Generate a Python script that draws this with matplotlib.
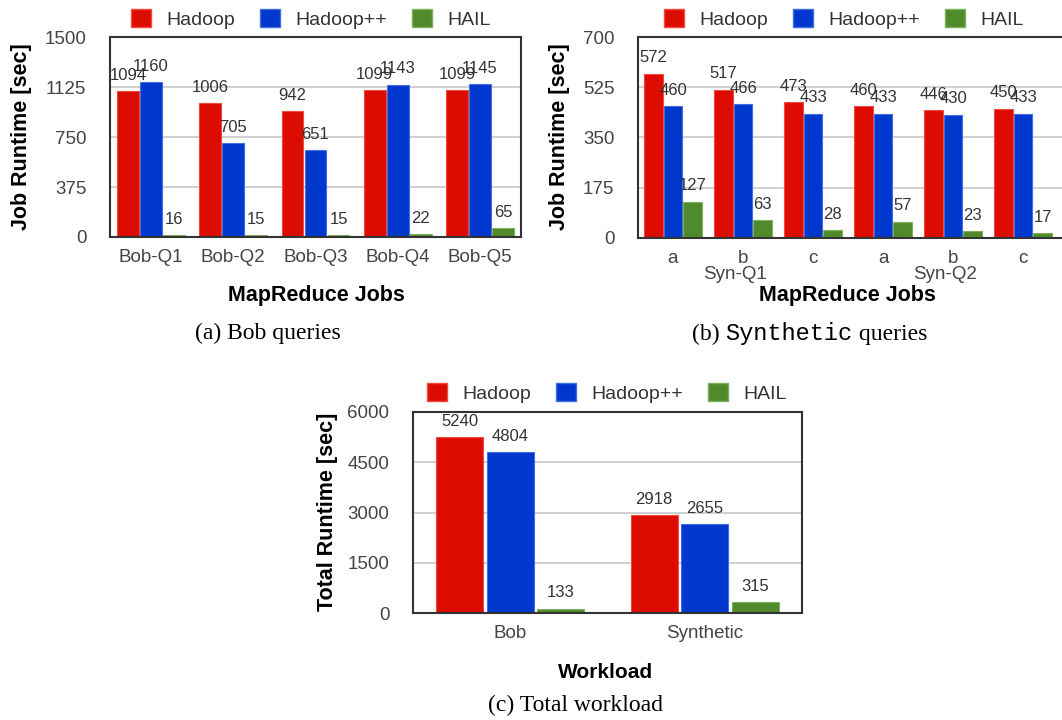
import matplotlib
matplotlib.use("Agg")
import matplotlib.pyplot as plt
from matplotlib.patches import Patch
import numpy as np

W, H = 1062, 720

series = ["Hadoop", "Hadoop++", "HAIL"]
colores = ["#dc0d00", "#0037cc", "#4f8a2b"]
bordes = ["#f04a3c", "#3f6fe0", "#7fae5c"]

bob_jobs = ["Bob-Q1", "Bob-Q2", "Bob-Q3", "Bob-Q4", "Bob-Q5"]
bob_hadoop = [1094, 1006, 942, 1099, 1099]
bob_hadooppp = [1160, 705, 651, 1143, 1145]
bob_hail = [16, 15, 15, 22, 65]

syn_sub = ["a", "b", "c", "a", "b", "c"]
syn_grupos = ["Syn-Q1", "Syn-Q2"]
syn_hadoop = [572, 517, 473, 460, 446, 450]
syn_hadooppp = [460, 466, 433, 433, 430, 433]
syn_hail = [127, 63, 28, 57, 23, 17]

total_cats = ["Bob", "Synthetic"]
total_hadoop = [5240, 2918]
total_hadooppp = [4804, 2655]
total_hail = [133, 315]

plt.rcParams["font.family"] = ["Liberation Sans", "DejaVu Sans"]
ESTRECHA = ["Liberation Sans Narrow", "Liberation Sans", "DejaVu Sans"]

fig = plt.figure(figsize=(W / 100, H / 100), dpi=100)


def caja(x0, y0, x1, y1):
    return [x0 / W, 1 - y1 / H, (x1 - x0) / W, (y1 - y0) / H]


def px(x, y):
    return x / W, 1 - y / H


def barras(ax, valores, ancho, paso, fs_val, fam):
    x = np.arange(len(valores[0]))
    for i, v in enumerate(valores):
        rects = ax.bar(x + (i - 1) * paso, v, width=ancho, color=colores[i],
                       edgecolor=bordes[i], linewidth=0.8, zorder=2)
        ax.bar_label(rects, padding=6, fontsize=fs_val, color="#333333", family=fam)
    return x


def estilo(ax, ymax, paso_y):
    ax.set_ylim(0, ymax)
    ax.set_yticks(np.arange(0, ymax + 1, paso_y))
    ax.set_axisbelow(True)
    ax.grid(axis="y", color="#c8c8c8", lw=1.2, zorder=0)
    ax.tick_params(length=0, labelsize=13.5, labelcolor="#444444")
    ax.tick_params(axis="y", pad=17)
    ax.tick_params(axis="x", pad=9)
    for s in ax.spines.values():
        s.set_color("#333333")
        s.set_linewidth(1.5)


def leyenda(x, y):
    manejadores = [Patch(facecolor=c, edgecolor=b) for c, b in zip(colores, bordes)]
    fig.legend(manejadores, series, loc="center", bbox_to_anchor=px(x, y), ncol=3,
               frameon=False, fontsize=14, labelcolor="#333333",
               handlelength=1.0, handleheight=1.0, handletextpad=0.8, columnspacing=1.3)


# (a) Bob
ax1 = fig.add_axes(caja(110, 37, 521, 237))
x = barras(ax1, [bob_hadoop, bob_hadooppp, bob_hail], 0.265, 0.28, 12, ESTRECHA)
ax1.set_xlim(-0.5, len(bob_jobs) - 0.5)
ax1.set_xticks(x, bob_jobs)
estilo(ax1, 1500, 375)
leyenda(311, 19)
fig.text(*px(22, 137), "Job Runtime [sec]", rotation=90, ha="center", va="center",
         fontsize=15.5, fontweight="bold")
fig.text(*px(316, 296), "MapReduce Jobs", ha="center", va="center",
         fontsize=15.5, fontweight="bold")
fig.text(*px(268, 333), "(a) Bob queries", ha="center", va="center",
         fontsize=17, family="Liberation Serif")

# (b) Synthetic (cortado a la derecha)
ancho_px = 1085 - 638
ax2 = fig.add_axes(caja(638, 37, 1085, 238))
x = barras(ax2, [syn_hadoop, syn_hadooppp, syn_hail], 0.27, 0.28, 12, ESTRECHA)
ax2.set_xlim(-0.5, -0.5 + ancho_px / 70)
ax2.set_xticks(x, syn_sub)
estilo(ax2, 700, 175)
for i, g in enumerate(syn_grupos):
    ax2.text(3 * i + 1 - 0.12, -0.18, g, transform=ax2.get_xaxis_transform(),
             ha="center", va="center", fontsize=13.5, color="#444444")
leyenda(844, 19)
fig.text(*px(560, 137), "Job Runtime [sec]", rotation=90, ha="center", va="center",
         fontsize=15.5, fontweight="bold")
fig.text(*px(847, 296), "MapReduce Jobs", ha="center", va="center",
         fontsize=15.5, fontweight="bold")

# (c) Total
ax3 = fig.add_axes(caja(413, 412, 802, 613))
x = barras(ax3, [total_hadoop, total_hadooppp, total_hail], 0.24, 0.26, 12,
           ["Liberation Sans", "DejaVu Sans"])
ax3.set_xlim(-0.5, len(total_cats) - 0.5)
ax3.set_xticks(x, total_cats)
estilo(ax3, 6000, 1500)
leyenda(607, 393)
fig.text(*px(327, 512), "Total Runtime [sec]", rotation=90, ha="center", va="center",
         fontsize=15.5, fontweight="bold")
fig.text(*px(606, 672), "Workload", ha="center", va="center",
         fontsize=15, fontweight="bold")
fig.text(*px(576, 705), "(c) Total workload", ha="center", va="center",
         fontsize=17, family="Liberation Serif")

# caption (b) con "Synthetic" en monoespaciada
partes = [("(b) ", "Liberation Serif"), ("Synthetic", "Liberation Mono"),
          (" queries", "Liberation Serif")]
renderer = fig.canvas.get_renderer()
xa = 692
yb = 1 - 340 / H
for txt, fam in partes:
    t = fig.text(xa / W, yb, txt, ha="left", va="baseline", fontsize=17, family=fam)
    xa += t.get_window_extent(renderer).width

fig.savefig("out.png", dpi=100)
